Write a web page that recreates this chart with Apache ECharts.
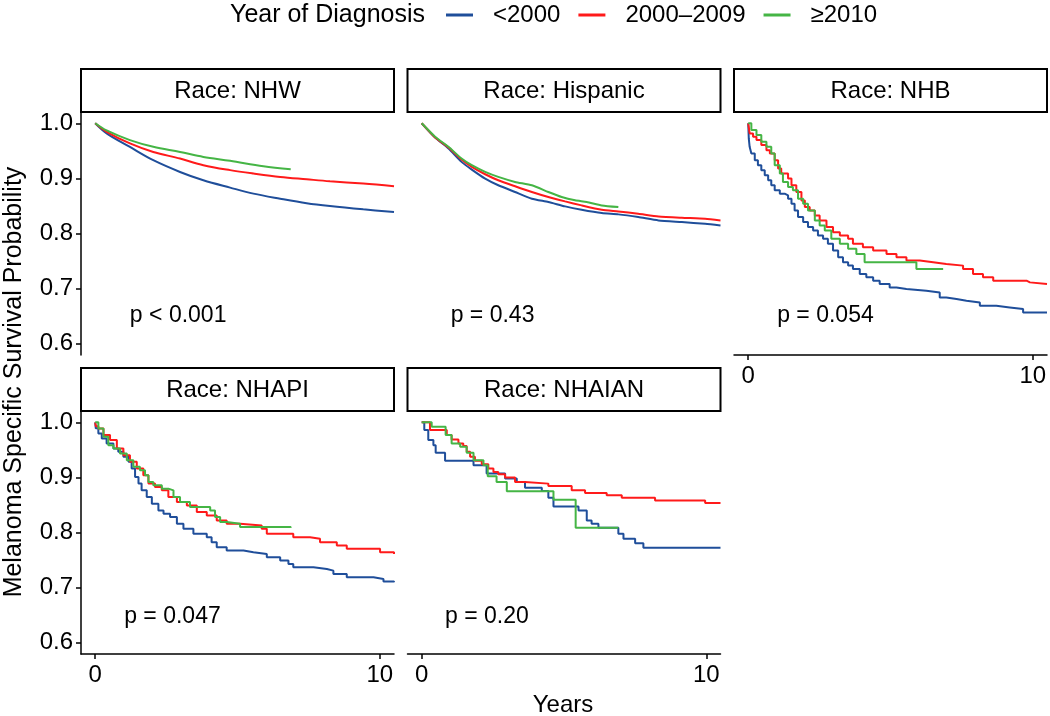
<!DOCTYPE html>
<html><head><meta charset="utf-8">
<script src="https://cdn.jsdelivr.net/npm/echarts@6/dist/echarts.min.js"></script>
<style>html,body{margin:0;padding:0;background:#fff}#c{width:1050px;height:716px}</style>
</head><body><div id="c"></div>
<script>
// ---------- data ----------
const groups = ['<2000', '2000–2009', '≥2010'];
const panelTitles = ['Race: NHW', 'Race: Hispanic', 'Race: NHB', 'Race: NHAPI', 'Race: NHAIAN'];
const pValues = ['p < 0.001', 'p = 0.43', 'p = 0.054', 'p = 0.047', 'p = 0.20'];
const pX = [1.2, 1.0, 1.0, 1.0, 0.8];
const pY = [0.65, 0.65, 0.65, 0.647, 0.647];
const yTicks = [0.6, 0.7, 0.8, 0.9, 1.0];
const xTicks = [0, 10];

// Race: NHW
const nhw_lt2000 = [[0,1],[0.4,0.9817],[1.22,0.957],[2.04,0.933],[2.98,0.9117],[3.8,0.8966],[4.74,0.8833],[5.56,0.8724],[6.5,0.8632],[7.43,0.855],[8.25,0.8498],[9.42,0.8438],[10.5,0.839]];
const nhw_2000s = [[0,1],[0.4,0.9846],[1.22,0.9635],[2.04,0.948],[2.98,0.936],[3.8,0.924],[4.74,0.915],[5.56,0.9088],[6.5,0.9026],[7.43,0.8984],[8.25,0.8948],[9.42,0.8906],[10.5,0.8857]];
const nhw_2010 = [[0,1],[0.4,0.987],[1.22,0.9695],[2.04,0.9573],[2.98,0.948],[3.8,0.939],[4.74,0.932],[5.91,0.922],[6.87,0.9166]];

// Race: Hispanic
const his_lt2000 = [[0,1],[0.47,0.974],[0.94,0.9543],[1.4,0.93],[1.76,0.916],[2.23,0.8996],[2.69,0.8875],[3.28,0.8753],[3.87,0.8632],[4.45,0.8571],[5.04,0.8492],[5.62,0.8431],[6.33,0.8371],[6.91,0.8347],[7.61,0.8298],[8.32,0.8237],[9.14,0.8207],[9.96,0.8176],[10.5,0.8146]];
const his_2000s = [[0,1],[0.47,0.9743],[0.94,0.9561],[1.4,0.9343],[1.76,0.9209],[2.23,0.9075],[2.69,0.8966],[3.28,0.8857],[3.87,0.8753],[4.45,0.8662],[5.04,0.8583],[5.62,0.851],[6.33,0.8431],[6.91,0.8401],[7.61,0.8359],[8.32,0.831],[9.14,0.8286],[9.96,0.8268],[10.5,0.8237]];
const his_2010 = [[0,1],[0.47,0.9756],[0.94,0.9573],[1.4,0.9361],[1.76,0.9239],[2.23,0.9118],[2.69,0.9027],[3.28,0.8936],[3.87,0.8875],[4.45,0.8753],[4.92,0.8662],[5.39,0.8602],[5.8,0.8571],[6.33,0.851],[6.91,0.848]];

// Race: NHB
const nhb_lt2000 = [[0,1],[0.02,0.972],[0.05,0.9573],[0.11,0.9452],[0.23,0.933],[0.34,0.9239],[0.46,0.9148],[0.58,0.9057],[0.7,0.8966],[0.81,0.8875],[0.93,0.8784],[1.11,0.8723],[1.28,0.8693],[1.4,0.8632],[1.52,0.8541],[1.63,0.8419],[1.75,0.8298],[1.93,0.8207],[2.1,0.8116],[2.28,0.8055],[2.45,0.7964],[2.63,0.7903],[2.8,0.7812],[2.98,0.769],[3.16,0.7569],[3.33,0.7478],[3.51,0.7417],[3.68,0.7356],[3.92,0.7265],[4.15,0.7204],[4.39,0.7144],[4.62,0.7083],[4.97,0.7022],[5.21,0.6992],[5.56,0.6962],[6.26,0.6931],[6.73,0.684],[6.96,0.681],[7.32,0.6779],[7.67,0.6749],[8.14,0.6688],[8.72,0.6658],[9.19,0.6628],[9.66,0.6567],[10.5,0.6567]];
const nhb_2000s = [[0,1],[0.05,0.9816],[0.17,0.9756],[0.29,0.9695],[0.46,0.9604],[0.64,0.9513],[0.76,0.9452],[0.93,0.933],[1.05,0.9179],[1.16,0.9088],[1.4,0.8996],[1.52,0.8875],[1.69,0.8753],[1.87,0.8601],[1.99,0.848],[2.16,0.8419],[2.34,0.8328],[2.51,0.8237],[2.75,0.8116],[2.98,0.8024],[3.22,0.7964],[3.51,0.7903],[3.68,0.7812],[4.03,0.7751],[4.39,0.769],[4.86,0.763],[5.21,0.7569],[5.56,0.7508],[6.03,0.7478],[6.5,0.7448],[6.96,0.7417],[7.55,0.7356],[7.9,0.7265],[8.25,0.7204],[8.61,0.7144],[9.78,0.7113],[9.9,0.7083],[10.5,0.7083]];
const nhb_2010 = [[0,1],[0.11,0.9877],[0.29,0.9786],[0.46,0.9664],[0.64,0.9573],[0.81,0.9452],[0.93,0.9239],[1.11,0.9088],[1.22,0.8936],[1.4,0.8845],[1.57,0.8784],[1.75,0.8632],[1.93,0.8541],[2.1,0.8419],[2.34,0.8237],[2.51,0.8146],[2.69,0.8055],[2.92,0.7903],[3.22,0.7812],[3.51,0.7721],[3.8,0.763],[4.09,0.7478],[5.91,0.7356],[6.85,0.7356]];

// Race: NHAPI
const api_lt2000 = [[0,1],[0.02,0.989],[0.11,0.9798],[0.23,0.9707],[0.4,0.9616],[0.64,0.9525],[0.81,0.9464],[0.99,0.9373],[1.17,0.9282],[1.28,0.916],[1.4,0.9008],[1.52,0.8887],[1.63,0.8765],[1.81,0.8644],[1.99,0.8523],[2.22,0.8401],[2.4,0.834],[2.63,0.828],[2.87,0.8158],[3.1,0.8067],[3.45,0.7976],[3.92,0.7915],[4.09,0.7824],[4.27,0.7733],[4.62,0.7672],[5.21,0.7642],[5.56,0.7611],[6.03,0.7551],[6.5,0.749],[6.79,0.7429],[6.96,0.7368],[7.67,0.7338],[8.14,0.7308],[8.37,0.7247],[8.84,0.7186],[9.78,0.7156],[10.13,0.7113],[10.5,0.7095]];
const api_2000s = [[0,1],[0.02,0.993],[0.11,0.9889],[0.29,0.9768],[0.52,0.9677],[0.76,0.9525],[0.99,0.9403],[1.22,0.9282],[1.46,0.916],[1.69,0.9039],[1.87,0.8887],[2.1,0.8826],[2.34,0.8765],[2.57,0.8644],[2.87,0.8553],[3.22,0.8492],[3.57,0.8371],[3.92,0.831],[4.27,0.8219],[4.62,0.8158],[5.09,0.8128],[5.85,0.8067],[6.03,0.7976],[6.96,0.7915],[7.55,0.7885],[7.9,0.7824],[8.49,0.7763],[8.84,0.7703],[10.01,0.7642],[10.5,0.7612]];
const api_2010 = [[0,1],[0.11,0.9889],[0.29,0.9737],[0.46,0.9585],[0.64,0.9525],[0.87,0.9434],[1.11,0.9312],[1.34,0.9191],[1.57,0.913],[1.75,0.9039],[1.87,0.8918],[2.04,0.8857],[2.34,0.8796],[2.57,0.8765],[2.75,0.8644],[2.98,0.8553],[3.33,0.8462],[4.04,0.8401],[4.21,0.828],[4.39,0.8189],[4.62,0.8158],[5.09,0.8098],[6.87,0.8085]];

// Race: NHAIAN
const aian_lt2000 = [[0,1],[0.09,0.9859],[0.23,0.9677],[0.41,0.9585],[0.49,0.9446],[0.82,0.93],[1.82,0.9221],[2.28,0.9069],[2.93,0.8978],[3.34,0.8917],[3.63,0.8814],[4.22,0.8753],[4.45,0.8632],[4.63,0.8474],[5.51,0.8401],[5.8,0.8219],[5.97,0.8158],[6.21,0.8085],[6.91,0.7976],[7.09,0.7885],[7.5,0.7806],[7.79,0.7721],[10.5,0.7721]];
const aian_2000s = [[0,1],[0.29,0.9859],[0.88,0.9768],[1.05,0.9689],[1.29,0.9616],[1.46,0.9568],[1.58,0.9464],[1.7,0.9373],[1.87,0.93],[2.11,0.924],[2.34,0.916],[2.52,0.91],[2.69,0.9057],[2.93,0.8996],[3.28,0.8917],[3.63,0.8887],[4.45,0.8845],[5.27,0.8766],[5.74,0.8717],[6.5,0.8674],[7.03,0.8632],[8.2,0.8583],[9.96,0.8535],[10.5,0.8535]];
const aian_2010 = [[0,1],[0.35,0.992],[0.84,0.9768],[1.05,0.9616],[1.35,0.9555],[1.58,0.9446],[1.82,0.9312],[2.17,0.9221],[2.32,0.9021],[2.63,0.8917],[2.99,0.8747],[4.63,0.8595],[5.41,0.8085],[6.91,0.8085]];

const panelData = [
  [nhw_lt2000, nhw_2000s, nhw_2010],
  [his_lt2000, his_2000s, his_2010],
  [nhb_lt2000, nhb_2000s, nhb_2010],
  [api_lt2000, api_2000s, api_2010],
  [aian_lt2000, aian_2000s, aian_2010]
];

// ---------- styling / layout ----------
const colors = ['#1F4E9A', '#FF1A1A', '#45B545'];
const FONT = '"Liberation Sans", Arial, Helvetica, sans-serif';
const colLeft = [81, 407.5, 734];
const colW = 313;
const rowTop = [112, 411];
const rowH = 243;
const stripH = 43;
const showX = [false, false, true, true, true];
const showY = [true, false, false, true, false];
const stepMode = [null, null, 'end', 'end', 'end'];
const smoothMode = [0.35, 0.2, 0, 0, 0];

const grids = [], xAxes = [], yAxes = [], series = [], graphics = [];
const axisLineStyle = { color: '#000', width: 1.5 };

panelData.forEach((curves, i) => {
  const col = i % 3, row = Math.floor(i / 3);
  grids.push({ left: colLeft[col], top: rowTop[row], width: colW, height: rowH });
  xAxes.push({
    type: 'value', gridIndex: i, min: -0.5, max: 10.5,
    axisLine: { show: showX[i], onZero: false, lineStyle: axisLineStyle },
    axisTick: { show: showX[i], length: 5, customValues: xTicks, lineStyle: axisLineStyle },
    axisLabel: { show: showX[i], customValues: xTicks, fontSize: 24, color: '#000', fontFamily: FONT, margin: 9 },
    splitLine: { show: false }
  });
  yAxes.push({
    type: 'value', gridIndex: i, min: 0.5795, max: 1.0205,
    axisLine: { show: showY[i], onZero: false, lineStyle: axisLineStyle },
    axisTick: { show: showY[i], length: 5, customValues: yTicks, lineStyle: axisLineStyle },
    axisLabel: { show: showY[i], customValues: yTicks, fontSize: 24, color: '#000', fontFamily: FONT, margin: 8,
      formatter: v => v.toFixed(1) },
    splitLine: { show: false }
  });
  curves.forEach((d, g) => {
    const s = {
      type: 'line', name: groups[g], xAxisIndex: i, yAxisIndex: i, data: d,
      symbol: 'none', showSymbol: false,
      lineStyle: { width: 2, color: colors[g] }, itemStyle: { color: colors[g] },
      emphasis: { disabled: true }, silent: true, z: 2 + g
    };
    if (stepMode[i]) s.step = stepMode[i];
    if (smoothMode[i]) s.smooth = smoothMode[i];
    series.push(s);
  });
  series.push({
    type: 'scatter', name: 'pval' + i, xAxisIndex: i, yAxisIndex: i,
    data: [[pX[i], pY[i]]], symbolSize: 1, itemStyle: { color: '#ffffff', opacity: 1 }, silent: true,
    label: { show: true, formatter: pValues[i], position: 'right', distance: 0,
      fontSize: 23, color: '#000000', opacity: 1, fontFamily: FONT }
  });
  // strip
  graphics.push({
    type: 'rect', shape: { x: colLeft[col], y: rowTop[row] - stripH, width: colW, height: stripH },
    style: { fill: '#fff', stroke: '#000', lineWidth: 2 }, z: 10
  });
  graphics.push({
    type: 'text', x: colLeft[col] + colW / 2, y: rowTop[row] - stripH / 2 + 1,
    style: { text: panelTitles[i], fontSize: 24, fontFamily: FONT, fill: '#000', textAlign: 'center', textVerticalAlign: 'middle' },
    z: 11
  });
});

graphics.push({
  type: 'text', x: 563, y: 705,
  style: { text: 'Years', fontSize: 24, fontFamily: FONT, fill: '#000', textAlign: 'center', textVerticalAlign: 'middle' }
});
graphics.push({
  type: 'text', x: 14, y: 382, rotation: Math.PI / 2,
  style: { text: 'Melanoma Specific Survival Probability', fontSize: 25, fontFamily: FONT, fill: '#000', textAlign: 'center', textVerticalAlign: 'middle' }
});
graphics.push({
  type: 'text', x: 230, y: 15,
  style: { text: 'Year of Diagnosis', fontSize: 25, fontFamily: FONT, fill: '#000', textAlign: 'left', textVerticalAlign: 'middle' }
});

const chart = echarts.init(document.getElementById('c'), null, { renderer: 'canvas' });
chart.setOption({
  animation: false,
  backgroundColor: '#fff',
  grid: grids, xAxis: xAxes, yAxis: yAxes, series: series,
  legend: {
    data: groups.map((g, k) => ({ name: g, itemStyle: { color: colors[k] } })),
    left: 446, top: 3, padding: 0, icon: 'rect', itemWidth: 27, itemHeight: 3, itemGap: 18,
    selectedMode: false,
    textStyle: { fontSize: 24, color: '#000', fontFamily: FONT, padding: [0, 0, 0, 15], lineHeight: 24 }
  },
  graphic: graphics
});
</script>
</body></html>
